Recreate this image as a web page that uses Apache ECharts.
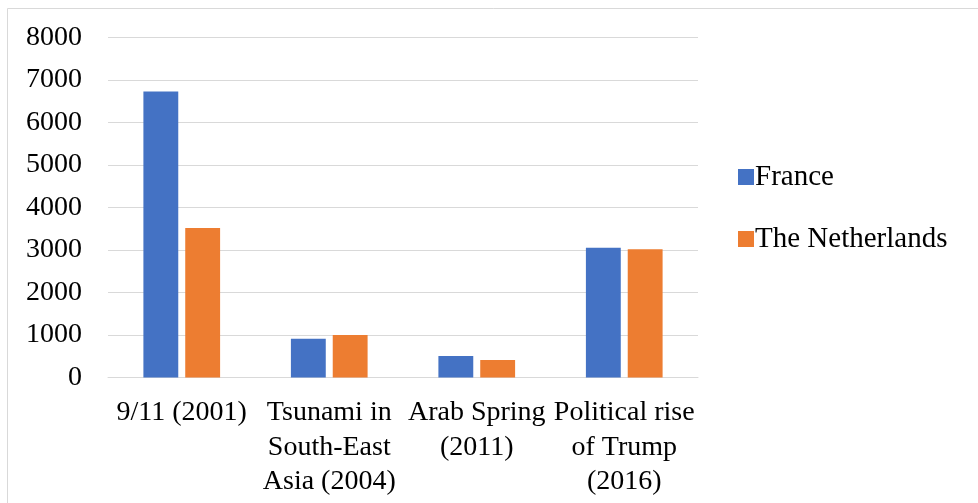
<!DOCTYPE html>
<html>
<head>
<meta charset="utf-8">
<script src="https://cdn.jsdelivr.net/npm/echarts@6/dist/echarts.min.js"></script>
<style>
  html, body { margin: 0; padding: 0; background: #fff; }
  #chart { width: 978px; height: 503px; }
</style>
</head>
<body>
<div id="chart"></div>
<script>
// Events (axis labels, wrapped the way they are displayed)
const categories = [
  '9/11 (2001)',
  'Tsunami in\nSouth-East\nAsia (2004)',
  'Arab Spring\n(2011)',
  'Political rise\nof Trump\n(2016)'
];
const seriesNames = ['France', 'The Netherlands'];
const franceValues = [6730, 910, 505, 3055];
const netherlandsValues = [3520, 1000, 410, 3015];
const yTicks = { min: 0, max: 8000, interval: 1000 };

const FONT = '"Liberation Serif", "DejaVu Serif", serif';
const TEXT = '#000000';

const chart = echarts.init(document.getElementById('chart'), null, { renderer: 'canvas' });

chart.setOption({
  backgroundColor: '#ffffff',
  animation: false,
  textStyle: { fontFamily: FONT },
  graphic: [{
    type: 'rect',
    shape: { x: 7.5, y: 8.5, width: 990, height: 520 },
    style: { fill: 'none', stroke: '#d9d9d9', lineWidth: 1 },
    silent: true
  }],
  grid: { left: 108, right: 280, top: 37.5, bottom: 125.5, containLabel: false },
  legend: {
    orient: 'vertical',
    left: 733,
    top: 157,
    itemWidth: 16,
    itemHeight: 16,
    itemGap: 32,
    icon: 'rect',
    textStyle: {
      fontFamily: FONT, fontSize: 29, lineHeight: 30, color: TEXT, padding: [0, 0, 0, -4]
    },
    data: seriesNames
  },
  xAxis: {
    type: 'category',
    data: categories,
    axisLine: { show: true, lineStyle: { color: '#d9d9d9', width: 1 } },
    axisTick: { show: false },
    axisLabel: {
      interval: 0,
      margin: 18,
      fontFamily: FONT,
      fontSize: 28,
      lineHeight: 34.5,
      color: TEXT,
      align: 'center'
    }
  },
  yAxis: {
    type: 'value',
    min: yTicks.min,
    max: yTicks.max,
    interval: yTicks.interval,
    axisLine: { show: false },
    axisTick: { show: false },
    splitLine: { lineStyle: { color: '#d9d9d9', width: 1 } },
    axisLabel: {
      fontFamily: FONT, fontSize: 28, color: TEXT, margin: 26,
      formatter: (v) => String(v)
    }
  },
  series: [
    {
      name: seriesNames[0],
      type: 'bar',
      data: franceValues,
      itemStyle: { color: '#4472c4' },
      barGap: '20%',
      barCategoryGap: '48%'
    },
    {
      name: seriesNames[1],
      type: 'bar',
      data: netherlandsValues,
      itemStyle: { color: '#ed7d31' },
      barGap: '20%',
      barCategoryGap: '48%'
    }
  ]
});
</script>
</body>
</html>
